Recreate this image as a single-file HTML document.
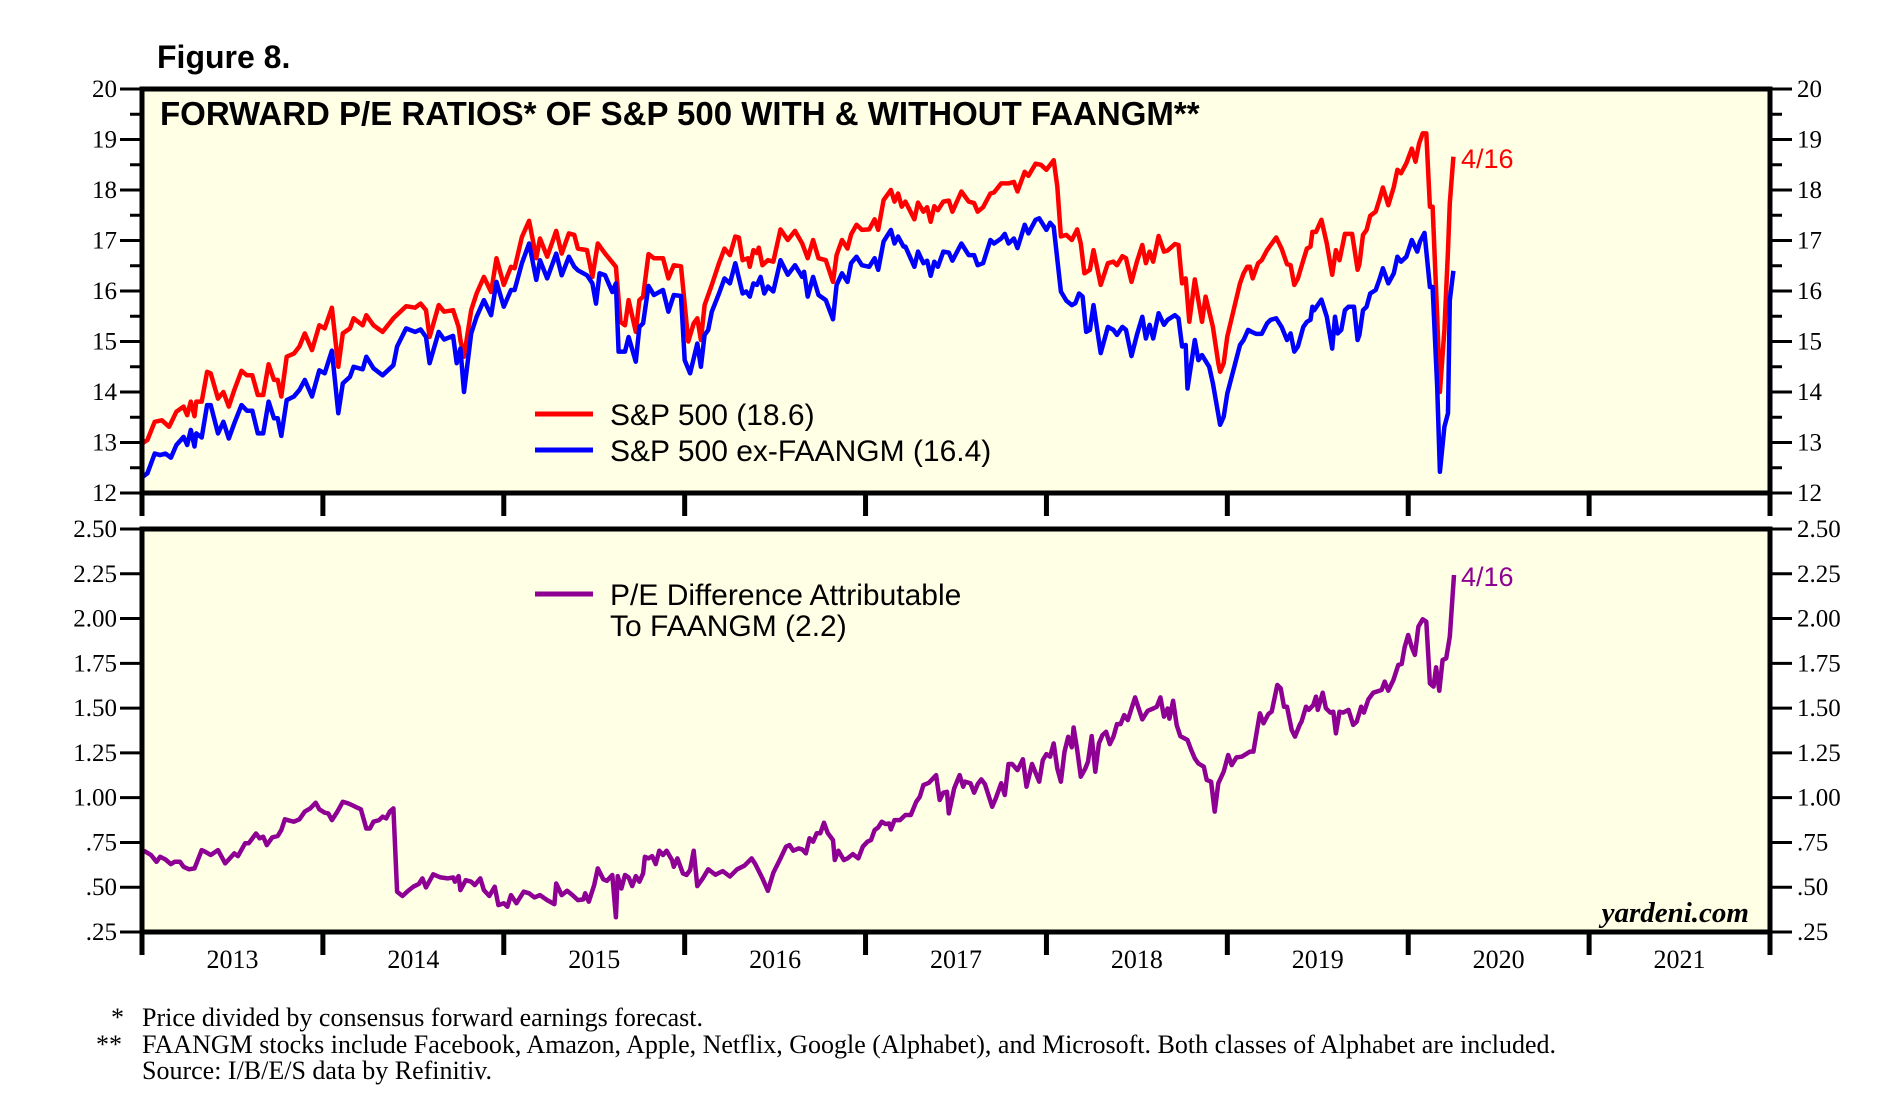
<!DOCTYPE html>
<html><head><meta charset="utf-8">
<style>
html,body{margin:0;padding:0;background:#fff;}
body{width:1877px;height:1115px;overflow:hidden;position:relative;font-family:"Liberation Sans",sans-serif;}
svg{position:absolute;left:0;top:0;}
</style></head>
<body>
<svg id="chart" width="1877" height="1115">
  <text x="157" y="68" font-family="Liberation Sans" font-weight="bold" font-size="32" fill="#000">Figure 8.</text>
  <rect x="142" y="89" width="1628" height="404" fill="#FFFFE5"/>
  <rect x="142" y="529" width="1628" height="403" fill="#FFFFE5"/>
  <g id="axes"></g>
  <g id="series"></g>
  <rect x="142" y="89" width="1628" height="404" fill="none" stroke="#000" stroke-width="5"/>
  <rect x="142" y="529" width="1628" height="403" fill="none" stroke="#000" stroke-width="5"/>
  <text x="160" y="125" font-family="Liberation Sans" font-weight="bold" font-size="33" fill="#000">FORWARD P/E RATIOS* OF S&amp;P 500 WITH &amp; WITHOUT FAANGM**</text>
  <line x1="535" y1="414" x2="593" y2="414" stroke="#FF0000" stroke-width="5"/>
  <text x="610" y="425" font-size="30" fill="#000">S&amp;P 500 (18.6)</text>
  <line x1="535" y1="450" x2="593" y2="450" stroke="#0000FF" stroke-width="5"/>
  <text x="610" y="461" font-size="30" fill="#000">S&amp;P 500 ex-FAANGM (16.4)</text>
  <line x1="535" y1="594" x2="593" y2="594" stroke="#8E0094" stroke-width="5"/>
  <text x="610" y="605" font-size="30" fill="#000">P/E Difference Attributable</text>
  <text x="610" y="636" font-size="30" fill="#000">To FAANGM (2.2)</text>
  <text x="1461" y="168" font-size="27" fill="#FF0000">4/16</text>
  <text x="1461" y="586" font-size="27" fill="#8E0094">4/16</text>
  <text x="1749" y="922" text-anchor="end" font-family="Liberation Serif" font-weight="bold" font-style="italic" font-size="29" fill="#000">yardeni.com</text>
  <g font-family="Liberation Serif" font-size="26" fill="#000">
    <text x="111" y="1026">*</text>
    <text x="142" y="1026">Price divided by consensus forward earnings forecast.</text>
    <text x="96" y="1053">**</text>
    <text x="142" y="1053">FAANGM stocks include Facebook, Amazon, Apple, Netflix, Google (Alphabet), and Microsoft. Both classes of Alphabet are included.</text>
    <text x="142" y="1079">Source: I/B/E/S data by Refinitiv.</text>
  </g>
</svg>
<script>
const years = ["2013","2014","2015","2016","2017","2018","2019","2020","2021"];
const topTicks = [12,13,14,15,16,17,18,19,20];
const bottomTicks = [0.25,0.5,0.75,1.0,1.25,1.5,1.75,2.0,2.25,2.5];
const bottomTickLabels = [".25",".50",".75","1.00","1.25","1.50","1.75","2.00","2.25","2.50"];

const spDates = [2013.00,2013.03,2013.07,2013.11,2013.15,2013.19,2013.23,2013.25,2013.27,2013.29,2013.30,2013.33,2013.36,2013.38,2013.42,2013.45,2013.48,2013.51,2013.55,2013.58,2013.61,2013.64,2013.67,2013.70,2013.73,2013.75,2013.77,2013.80,2013.84,2013.87,2013.90,2013.94,2013.98,2014.01,2014.05,2014.085,2014.11,2014.15,2014.17,2014.22,2014.24,2014.28,2014.33,2014.39,2014.46,2014.51,2014.54,2014.57,2014.59,2014.64,2014.67,2014.72,2014.75,2014.76,2014.78,2014.82,2014.85,2014.89,2014.93,2014.96,2015.00,2015.04,2015.06,2015.10,2015.14,2015.18,2015.20,2015.24,2015.29,2015.32,2015.36,2015.39,2015.41,2015.46,2015.49,2015.52,2015.56,2015.62,2015.645,2015.67,2015.69,2015.73,2015.75,2015.77,2015.80,2015.83,2015.88,2015.91,2015.94,2015.98,2016.02,2016.05,2016.07,2016.09,2016.11,2016.15,2016.19,2016.22,2016.25,2016.28,2016.30,2016.32,2016.35,2016.36,2016.38,2016.40,2016.41,2016.43,2016.46,2016.49,2016.53,2016.57,2016.61,2016.65,2016.68,2016.71,2016.74,2016.78,2016.82,2016.84,2016.87,2016.90,2016.92,2016.95,2016.98,2017.02,2017.05,2017.07,2017.10,2017.14,2017.16,2017.18,2017.20,2017.22,2017.27,2017.29,2017.32,2017.34,2017.36,2017.38,2017.40,2017.43,2017.46,2017.48,2017.53,2017.57,2017.60,2017.62,2017.65,2017.69,2017.71,2017.75,2017.79,2017.82,2017.84,2017.88,2017.90,2017.94,2017.97,2018.00,2018.04,2018.06,2018.08,2018.11,2018.14,2018.17,2018.19,2018.21,2018.24,2018.26,2018.30,2018.34,2018.37,2018.39,2018.42,2018.44,2018.47,2018.50,2018.53,2018.55,2018.57,2018.59,2018.62,2018.65,2018.67,2018.71,2018.73,2018.75,2018.77,2018.79,2018.82,2018.86,2018.88,2018.92,2018.95,2018.96,2018.98,2019.00,2019.07,2019.09,2019.11,2019.125,2019.14,2019.17,2019.19,2019.22,2019.24,2019.27,2019.30,2019.33,2019.35,2019.37,2019.39,2019.42,2019.44,2019.46,2019.47,2019.49,2019.52,2019.55,2019.58,2019.60,2019.62,2019.65,2019.69,2019.72,2019.73,2019.75,2019.77,2019.79,2019.82,2019.84,2019.86,2019.89,2019.92,2019.94,2019.96,2019.99,2020.02,2020.04,2020.06,2020.08,2020.10,2020.12,2020.135,2020.16,2020.175,2020.20,2020.22,2020.23,2020.25];
const spValues = [12.98,13.05,13.41,13.44,13.31,13.61,13.71,13.54,13.81,13.52,13.81,13.81,14.40,14.37,13.87,14.00,13.71,14.04,14.42,14.33,14.33,13.94,13.94,14.55,14.24,14.24,13.91,14.70,14.76,14.90,15.16,14.83,15.32,15.26,15.67,14.50,15.16,15.26,15.46,15.32,15.52,15.32,15.19,15.46,15.70,15.67,15.75,15.62,15.09,15.72,15.59,15.62,15.29,15.03,14.70,15.62,15.95,16.28,15.98,16.65,16.12,16.48,16.45,17.07,17.39,16.65,17.04,16.68,17.19,16.74,17.14,17.11,16.84,16.81,16.28,16.94,16.74,16.48,15.39,15.32,15.82,15.19,15.82,15.89,16.73,16.65,16.65,16.25,16.51,16.49,15.00,15.36,15.46,15.03,15.72,16.12,16.55,16.84,16.71,17.08,17.06,16.61,16.65,16.48,16.81,16.75,16.86,16.51,16.61,16.58,17.22,17.01,17.19,16.94,16.65,17.01,16.65,16.61,16.18,16.71,17.01,16.84,17.12,17.31,17.21,17.22,17.42,17.21,17.80,18.00,17.77,17.93,17.67,17.77,17.42,17.75,17.57,17.66,17.37,17.68,17.60,17.77,17.79,17.57,17.97,17.77,17.74,17.57,17.66,17.93,17.95,18.13,18.13,18.16,17.97,18.36,18.28,18.52,18.50,18.40,18.59,18.07,17.08,17.11,17.01,17.22,16.94,16.35,16.42,16.81,16.12,16.55,16.58,16.51,16.69,16.65,16.18,16.58,16.91,16.55,16.78,16.58,17.09,16.78,16.80,16.93,16.91,16.15,16.25,15.39,16.23,15.39,15.89,15.29,14.57,14.40,14.57,15.10,16.15,16.35,16.48,16.48,16.25,16.55,16.61,16.81,16.91,17.06,16.84,16.53,16.51,16.12,16.25,16.61,16.84,16.88,17.17,17.17,17.41,16.94,16.32,16.81,16.61,17.13,17.13,16.42,16.53,17.11,17.21,17.49,17.57,17.80,18.05,17.70,18.06,18.40,18.33,18.53,18.82,18.56,18.92,19.12,19.12,17.67,17.67,15.49,14.00,15.23,16.81,17.74,18.66];

const exDates = [2013.00,2013.03,2013.07,2013.10,2013.13,2013.16,2013.19,2013.23,2013.25,2013.27,2013.29,2013.30,2013.33,2013.36,2013.38,2013.42,2013.45,2013.48,2013.51,2013.55,2013.58,2013.61,2013.64,2013.67,2013.70,2013.73,2013.75,2013.77,2013.80,2013.84,2013.87,2013.90,2013.94,2013.98,2014.01,2014.05,2014.085,2014.11,2014.15,2014.17,2014.22,2014.24,2014.28,2014.33,2014.39,2014.41,2014.46,2014.51,2014.54,2014.57,2014.59,2014.64,2014.67,2014.72,2014.74,2014.76,2014.78,2014.82,2014.85,2014.89,2014.93,2014.96,2015.00,2015.04,2015.06,2015.10,2015.14,2015.18,2015.20,2015.24,2015.29,2015.32,2015.36,2015.39,2015.41,2015.46,2015.49,2015.51,2015.53,2015.56,2015.60,2015.62,2015.635,2015.67,2015.69,2015.73,2015.75,2015.77,2015.80,2015.83,2015.88,2015.91,2015.94,2015.98,2016.00,2016.03,2016.07,2016.09,2016.11,2016.13,2016.15,2016.19,2016.22,2016.25,2016.28,2016.32,2016.34,2016.36,2016.38,2016.40,2016.42,2016.44,2016.46,2016.49,2016.53,2016.57,2016.61,2016.65,2016.66,2016.68,2016.71,2016.74,2016.78,2016.82,2016.84,2016.87,2016.90,2016.92,2016.95,2016.98,2017.02,2017.05,2017.07,2017.10,2017.14,2017.16,2017.18,2017.21,2017.22,2017.27,2017.29,2017.32,2017.34,2017.36,2017.38,2017.40,2017.43,2017.46,2017.48,2017.53,2017.57,2017.60,2017.62,2017.65,2017.69,2017.71,2017.75,2017.77,2017.79,2017.82,2017.84,2017.88,2017.90,2017.94,2017.96,2018.00,2018.02,2018.04,2018.08,2018.11,2018.14,2018.16,2018.18,2018.20,2018.22,2018.24,2018.26,2018.30,2018.34,2018.37,2018.39,2018.42,2018.44,2018.47,2018.50,2018.53,2018.55,2018.57,2018.59,2018.62,2018.65,2018.67,2018.71,2018.73,2018.75,2018.77,2018.78,2018.82,2018.84,2018.86,2018.90,2018.92,2018.96,2018.98,2019.00,2019.07,2019.09,2019.115,2019.135,2019.16,2019.19,2019.22,2019.24,2019.27,2019.30,2019.33,2019.35,2019.37,2019.39,2019.42,2019.44,2019.46,2019.47,2019.48,2019.52,2019.55,2019.58,2019.595,2019.61,2019.63,2019.65,2019.67,2019.70,2019.72,2019.73,2019.75,2019.77,2019.79,2019.82,2019.84,2019.86,2019.89,2019.92,2019.94,2019.96,2019.99,2020.02,2020.05,2020.065,2020.09,2020.12,2020.135,2020.16,2020.175,2020.20,2020.22,2020.23,2020.25];
const exValues = [12.31,12.39,12.78,12.75,12.78,12.70,12.95,13.11,12.95,13.25,12.92,13.18,13.10,13.74,13.74,13.18,13.41,13.08,13.38,13.74,13.63,13.63,13.18,13.18,13.81,13.48,13.48,13.13,13.84,13.91,14.04,14.24,13.91,14.43,14.37,14.82,13.58,14.17,14.30,14.50,14.45,14.70,14.47,14.33,14.53,14.90,15.26,15.19,15.24,15.09,14.57,15.19,15.04,15.11,14.57,14.86,14.00,15.16,15.49,15.82,15.52,16.18,15.69,16.02,16.02,16.55,16.94,16.22,16.61,16.25,16.74,16.31,16.68,16.48,16.41,16.31,16.15,15.75,16.35,16.31,15.98,16.15,14.80,14.80,15.09,14.60,15.29,15.36,16.10,15.92,16.02,15.59,15.92,15.90,14.63,14.37,14.96,14.50,15.13,15.23,15.59,15.95,16.25,16.15,16.55,15.95,15.99,15.89,16.15,16.12,16.28,15.95,16.09,15.99,16.61,16.32,16.51,16.28,16.38,15.89,16.28,15.92,15.82,15.44,16.12,16.35,16.18,16.55,16.68,16.51,16.48,16.65,16.42,16.98,17.21,16.94,17.08,16.88,16.88,16.48,16.78,16.55,16.60,16.30,16.58,16.48,16.78,16.76,16.60,16.94,16.71,16.71,16.51,16.55,17.01,16.94,17.04,17.13,16.94,17.04,16.85,17.31,17.14,17.41,17.44,17.21,17.35,17.27,15.99,15.81,15.72,15.76,15.95,15.89,15.19,15.23,15.72,14.77,15.29,15.23,15.13,15.29,15.23,14.71,15.13,15.49,15.06,15.33,15.06,15.56,15.33,15.43,15.52,15.46,14.90,14.93,14.07,15.03,14.63,14.73,14.50,14.17,13.35,13.51,13.97,14.93,15.03,15.23,15.19,15.15,15.15,15.36,15.43,15.46,15.29,15.03,15.16,14.80,14.90,15.29,15.39,15.43,15.69,15.62,15.83,15.49,14.86,15.49,15.16,15.23,15.62,15.69,15.69,15.03,15.13,15.62,15.69,15.95,16.02,16.22,16.45,16.15,16.35,16.68,16.58,16.68,17.01,16.78,16.98,17.15,16.08,16.08,14.10,12.42,13.31,13.58,15.82,16.40];

const diffDates = [2013.01,2013.05,2013.08,2013.10,2013.13,2013.16,2013.18,2013.21,2013.23,2013.26,2013.29,2013.33,2013.35,2013.38,2013.42,2013.46,2013.48,2013.51,2013.53,2013.57,2013.59,2013.63,2013.65,2013.67,2013.69,2013.72,2013.75,2013.77,2013.79,2013.82,2013.84,2013.87,2013.90,2013.93,2013.96,2013.98,2014.01,2014.03,2014.05,2014.08,2014.11,2014.14,2014.16,2014.18,2014.21,2014.24,2014.26,2014.28,2014.31,2014.33,2014.35,2014.37,2014.39,2014.41,2014.44,2014.47,2014.50,2014.53,2014.55,2014.57,2014.61,2014.65,2014.69,2014.72,2014.73,2014.75,2014.76,2014.79,2014.82,2014.84,2014.87,2014.89,2014.92,2014.95,2014.97,2015.00,2015.02,2015.04,2015.07,2015.11,2015.14,2015.17,2015.20,2015.24,2015.28,2015.29,2015.32,2015.35,2015.38,2015.41,2015.44,2015.45,2015.47,2015.50,2015.52,2015.55,2015.57,2015.60,2015.62,2015.63,2015.65,2015.67,2015.69,2015.71,2015.73,2015.75,2015.77,2015.78,2015.80,2015.82,2015.84,2015.86,2015.88,2015.90,2015.93,2015.94,2015.96,2015.99,2016.01,2016.03,2016.05,2016.07,2016.10,2016.13,2016.17,2016.21,2016.25,2016.29,2016.33,2016.37,2016.39,2016.43,2016.46,2016.49,2016.53,2016.56,2016.58,2016.60,2016.63,2016.65,2016.67,2016.69,2016.71,2016.73,2016.75,2016.77,2016.79,2016.82,2016.83,2016.85,2016.88,2016.90,2016.93,2016.96,2016.985,2017.01,2017.03,2017.05,2017.07,2017.09,2017.11,2017.13,2017.14,2017.16,2017.19,2017.22,2017.25,2017.28,2017.30,2017.32,2017.35,2017.39,2017.41,2017.43,2017.45,2017.46,2017.49,2017.52,2017.54,2017.55,2017.58,2017.60,2017.62,2017.64,2017.66,2017.70,2017.72,2017.75,2017.77,2017.79,2017.81,2017.84,2017.87,2017.89,2017.91,2017.92,2017.96,2017.98,2018.00,2018.02,2018.04,2018.06,2018.08,2018.10,2018.12,2018.14,2018.15,2018.17,2018.19,2018.215,2018.23,2018.25,2018.27,2018.29,2018.31,2018.33,2018.35,2018.37,2018.39,2018.41,2018.43,2018.45,2018.47,2018.49,2018.51,2018.53,2018.56,2018.59,2018.61,2018.63,2018.65,2018.67,2018.68,2018.70,2018.72,2018.74,2018.78,2018.80,2018.82,2018.84,2018.87,2018.886,2018.91,2018.93,2018.95,2018.98,2019.005,2019.024,2019.05,2019.08,2019.125,2019.144,2019.18,2019.20,2019.227,2019.245,2019.276,2019.295,2019.313,2019.33,2019.356,2019.374,2019.40,2019.41,2019.435,2019.45,2019.475,2019.49,2019.50,2019.527,2019.545,2019.57,2019.586,2019.60,2019.62,2019.64,2019.67,2019.696,2019.715,2019.74,2019.755,2019.78,2019.807,2019.853,2019.87,2019.89,2019.918,2019.945,2019.964,2019.98,2020.00,2020.02,2020.037,2020.056,2020.08,2020.10,2020.12,2020.14,2020.154,2020.172,2020.19,2020.21,2020.23,2020.253];
const diffValues = [0.704,0.680,0.642,0.670,0.655,0.629,0.642,0.642,0.614,0.600,0.605,0.707,0.698,0.680,0.707,0.633,0.655,0.689,0.674,0.745,0.745,0.800,0.773,0.782,0.735,0.778,0.786,0.819,0.879,0.871,0.866,0.879,0.922,0.940,0.972,0.935,0.916,0.912,0.875,0.922,0.977,0.968,0.959,0.949,0.935,0.828,0.828,0.866,0.875,0.894,0.884,0.922,0.940,0.475,0.451,0.479,0.503,0.518,0.549,0.499,0.572,0.555,0.549,0.555,0.531,0.562,0.484,0.540,0.531,0.512,0.549,0.484,0.451,0.503,0.400,0.410,0.391,0.456,0.410,0.475,0.466,0.443,0.456,0.428,0.406,0.521,0.456,0.480,0.456,0.428,0.432,0.466,0.419,0.512,0.605,0.544,0.536,0.568,0.332,0.562,0.493,0.568,0.555,0.506,0.562,0.531,0.577,0.670,0.661,0.674,0.629,0.704,0.680,0.704,0.652,0.614,0.661,0.577,0.568,0.596,0.704,0.506,0.55,0.60,0.57,0.59,0.56,0.60,0.62,0.661,0.63,0.55,0.48,0.58,0.661,0.726,0.735,0.704,0.717,0.711,0.689,0.773,0.754,0.801,0.801,0.860,0.804,0.763,0.652,0.704,0.652,0.661,0.685,0.661,0.726,0.754,0.763,0.819,0.834,0.866,0.853,0.856,0.823,0.875,0.875,0.903,0.903,0.977,1.005,1.070,1.083,1.126,0.987,1.028,1.033,0.912,1.052,1.126,1.061,1.089,1.080,1.028,1.076,1.102,1.076,0.949,0.996,1.080,1.015,1.188,1.188,1.154,1.214,1.061,1.145,1.188,1.089,1.210,1.243,1.229,1.303,1.163,1.089,1.256,1.340,1.281,1.392,1.266,1.117,1.163,1.201,1.344,1.145,1.303,1.350,1.368,1.299,1.340,1.411,1.411,1.461,1.433,1.498,1.560,1.498,1.437,1.485,1.498,1.508,1.560,1.452,1.498,1.441,1.541,1.405,1.344,1.322,1.266,1.219,1.191,1.173,1.099,1.089,0.922,1.080,1.145,1.238,1.182,1.225,1.229,1.257,1.257,1.471,1.415,1.467,1.480,1.629,1.610,1.508,1.508,1.378,1.341,1.406,1.424,1.508,1.490,1.517,1.564,1.490,1.586,1.499,1.475,1.480,1.359,1.480,1.475,1.490,1.406,1.424,1.508,1.475,1.549,1.586,1.601,1.648,1.597,1.657,1.741,1.746,1.839,1.908,1.839,1.797,1.955,1.996,1.983,1.638,1.620,1.728,1.597,1.769,1.778,1.899,2.243];

const NS = "http://www.w3.org/2000/svg";
const X0 = 142, X1 = 1770, T_TOP = 89, T_BOT = 493, B_TOP = 529, B_BOT = 932;
function xScale(yr){ return X0 + (yr - 2013) * (X1 - X0) / 9; }
function yTop(v){ return T_BOT - (v - 12) * (T_BOT - T_TOP) / 8; }
function yBot(v){ return B_BOT - (v - 0.25) * (B_BOT - B_TOP) / 2.25; }
function mk(tag, attrs, parent){ const e = document.createElementNS(NS, tag); for (const k in attrs) e.setAttribute(k, attrs[k]); parent.appendChild(e); return e; }

const axes = document.getElementById('axes');
const series = document.getElementById('series');

topTicks.forEach(function(v){
  const y = yTop(v);
  const l = mk('line', {x1:120, y1:y, x2:X0, y2:y, stroke:'#000', 'stroke-width':3}, axes);
  
  
  const r = mk('line', {x1:X1, y1:y, x2:1792, y2:y, stroke:'#000', 'stroke-width':3}, axes);
  
  
  const tl = mk('text', {x:117, y:y+8, 'text-anchor':'end', 'font-family':'Liberation Serif', 'font-size':25, fill:'#000'}, axes);
  tl.textContent = String(v);
  
  
  const tr = mk('text', {x:1797, y:y+8, 'font-family':'Liberation Serif', 'font-size':25, fill:'#000'}, axes);
  tr.textContent = String(v);
  
  
  if (v < 20) {
    const ym = yTop(v + 0.5);
    const ml = mk('line', {x1:130, y1:ym, x2:X0, y2:ym, stroke:'#000', 'stroke-width':3}, axes);
    
    
    const mr = mk('line', {x1:X1, y1:ym, x2:1782, y2:ym, stroke:'#000', 'stroke-width':3}, axes);
    
    
  }
});

bottomTicks.forEach(function(v, i){
  const y = yBot(v);
  const l = mk('line', {x1:120, y1:y, x2:X0, y2:y, stroke:'#000', 'stroke-width':3}, axes);
  
  
  const r = mk('line', {x1:X1, y1:y, x2:1792, y2:y, stroke:'#000', 'stroke-width':3}, axes);
  
  
  const tl = mk('text', {x:117, y:y+8, 'text-anchor':'end', 'font-family':'Liberation Serif', 'font-size':25, fill:'#000'}, axes);
  tl.textContent = bottomTickLabels[i];
  
  
  const tr = mk('text', {x:1797, y:y+8, 'font-family':'Liberation Serif', 'font-size':25, fill:'#000'}, axes);
  tr.textContent = bottomTickLabels[i];
  
  
});

for (let i = 0; i <= years.length; i++) {
  const x = xScale(2013 + i);
  const t1 = mk('line', {x1:x, y1:T_BOT, x2:x, y2:516, stroke:'#000', 'stroke-width':5}, axes);
  
  
  const t2 = mk('line', {x1:x, y1:B_BOT, x2:x, y2:955, stroke:'#000', 'stroke-width':5}, axes);
  
  
}
years.forEach(function(yl, i){
  const t = mk('text', {x:xScale(2013.5 + i), y:968, 'text-anchor':'middle', 'font-family':'Liberation Serif', 'font-size':26, fill:'#000'}, axes);
  t.textContent = yl;
  
  
});

function linePath(dates, vals, ys){
  return dates.map(function(d, i){ return (i ? 'L' : 'M') + xScale(d).toFixed(1) + ' ' + ys(vals[i]).toFixed(1); }).join(' ');
}
const pRed = mk('path', {d:linePath(spDates, spValues, yTop), fill:'none', stroke:'#FF0000', 'stroke-width':4.5, 'stroke-linejoin':'round'}, series);


const pBlue = mk('path', {d:linePath(exDates, exValues, yTop), fill:'none', stroke:'#0000FF', 'stroke-width':4.5, 'stroke-linejoin':'round'}, series);


const pPur = mk('path', {d:linePath(diffDates, diffValues, yBot), fill:'none', stroke:'#8E0094', 'stroke-width':4.5, 'stroke-linejoin':'round'}, series);


</script>
</body></html>
